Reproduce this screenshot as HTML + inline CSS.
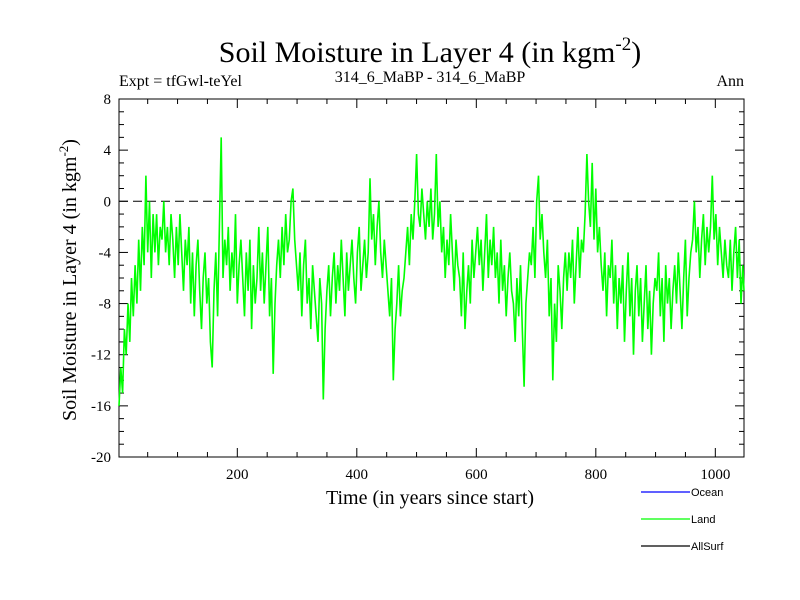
<!DOCTYPE html>
<html><head><meta charset="utf-8"><style>
body{margin:0;background:#fff;}
svg{display:block;}
text{font-family:"Liberation Serif",serif;}
</style></head><body>
<svg id="chart" width="800" height="600">
<text x="430" y="62" font-size="30" text-anchor="middle">Soil Moisture in Layer 4 (in kgm<tspan dy="-12" font-size="19">-2</tspan><tspan dy="12">)</tspan></text>
<text x="119" y="86" font-size="16">Expt = tfGwl-teYel</text>
<text x="430" y="82" font-size="16" text-anchor="middle">314_6_MaBP - 314_6_MaBP</text>
<text x="744" y="86" font-size="16" text-anchor="end">Ann</text>
<text transform="translate(76,280) rotate(-90)" font-size="20" text-anchor="middle">Soil Moisture in Layer 4 (in kgm<tspan dy="-8" font-size="13">-2</tspan><tspan dy="8">)</tspan></text>
<text x="430" y="504" font-size="20" text-anchor="middle">Time (in years since start)</text>
<g id="axes"></g>
<g id="series"></g>
<g>
<line x1="641" y1="492" x2="690" y2="492" stroke="#0000ff" stroke-width="1.2"/>
<text x="691" y="496" font-size="11" style="font-family:'Liberation Sans',sans-serif">Ocean</text>
<line x1="641" y1="519" x2="690" y2="519" stroke="#00ff00" stroke-width="1.2"/>
<text x="691" y="523" font-size="11" style="font-family:'Liberation Sans',sans-serif">Land</text>
<line x1="641" y1="546" x2="690" y2="546" stroke="#000" stroke-width="1.2"/>
<text x="691" y="550" font-size="11" style="font-family:'Liberation Sans',sans-serif">AllSurf</text>
</g>
</svg>
<script>
const yearStep = 3;
const landValues = [
-16,-13,-15,-10,-12,-8,-11,-6,-9,-5,
-8,-3,-7,-2,-5,2,-4,0,-6,-1,
-4,-1,-5,-2,-3,0,-4,-2,-5,-1,
-3,-6,-2,-5,-1,-4,-7,-3,-5,-2,
-8,-4,-9,-5,-3,-7,-10,-6,-4,-8,
-6,-11,-13,-7,-4,-9,-2,5,-6,-3,
-5,-2,-7,-4,-6,-1,-8,-5,-3,-6,
-9,-4,-7,-3,-10,-5,-8,-6,-2,-7,
-4,-8,-5,-2,-9,-6,-13.5,-8,-5,-3,
-6,-2,-5,-1,-4,-3,0,1,-3,-5,
-7,-4,-9,-5,-3,-8,-6,-10,-5,-7,
-9,-11,-6,-8,-15.5,-10,-7,-5,-9,-6,
-4,-8,-5,-7,-3,-6,-9,-4,-7,-5,
-3,-6,-8,-4,-2,-7,-5,-3,-6,-4,
1.8,-3,-1,-5,-2,0,-4,-6,-3,-5,
-7,-9,-6,-14,-10,-8,-5,-9,-7,-6,
-4,-2,-5,-1,-3,0,3.7,-1,-2,1,
-1,-3,0,-2,1,-3,-1,3.7,-2,0,
-4,-2,-6,-3,-5,-1,-4,-7,-3,-5,
-6,-9,-4,-10,-7,-5,-8,-3,-6,-4,
-2,-5,-3,-7,-4,-1,-6,-3,-5,-2,
-6,-4,-8,-3,-7,-5,-9,-6,-4,-7,
-8,-11,-6,-9,-5,-10,-14.5,-8,-6,-4,
-5,-2,-6,0,2,-3,-1,-4,-6,-3,
-9,-6,-14,-8,-11,-5,-7,-10,-6,-4,
-7,-4,-6,-3,-8,-5,-2,-6,-3,-4,
-1,3.7,0,-2,3,-3,1,-4,-2,-5,
-7,-4,-9,-5,-6,-3,-8,-5,-10,-6,
-8,-5,-11,-7,-4,-9,-6,-12,-7,-5,
-9,-6,-11,-8,-5,-10,-7,-12,-8,-6,
-7,-4,-9,-6,-11,-5,-8,-6,-10,-7,
-5,-8,-4,-7,-10,-6,-3,-9,-6,-4,
-3,0,-4,-2,-6,-3,-1,-5,-2,-4,
-2,2,-3,-1,-5,-2,-4,-6,-3,-5,
-6,-3,-7,-4,-2,-6,-3,-8,-5,-7
];
const yTicks = [8,4,0,-4,-8,-12,-16,-20];
const xTicks = [200,400,600,800,1000];
const X0=119,X1=744,Y0=99,Y1=457;
const xMin=2,xMax=1048,yMin=-20,yMax=8;
function sx(v){return X0+(v-xMin)/(xMax-xMin)*(X1-X0);}
function sy(v){return Y1-(v-yMin)/(yMax-yMin)*(Y1-Y0);}
const NS="http://www.w3.org/2000/svg";
function mk(tag,attrs,parent){const e=document.createElementNS(NS,tag);for(const k in attrs)e.setAttribute(k,attrs[k]);parent.appendChild(e);return e;}
const axes=document.getElementById('axes');
const frame=mk('rect',{x:X0,y:Y0,width:X1-X0,height:Y1-Y0,fill:'none',stroke:'#000','stroke-width':1},axes);


const zl=mk('line',{x1:X0,x2:X1,y1:sy(0),y2:sy(0),stroke:'#000','stroke-dasharray':'9,5','stroke-width':1},axes);


for(let v=yMin;v<=yMax;v++){
  const major=v%4===0;const L=major?9:5;const y=sy(v);
  mk('line',{x1:X0,x2:X0+L,y1:y,y2:y,stroke:'#000'},axes);
  mk('line',{x1:X1,x2:X1-L,y1:y,y2:y,stroke:'#000'},axes);
}
yTicks.forEach(v=>{
  const t=mk('text',{x:X0-8,y:sy(v)+5,'font-size':15,'text-anchor':'end'},axes);
  t.textContent=v;
  
  
});
for(let v=50;v<=xMax;v+=50){
  const major=v%200===0;const L=major?9:5;const x=sx(v);
  mk('line',{x1:x,x2:x,y1:Y1,y2:Y1-L,stroke:'#000'},axes);
  mk('line',{x1:x,x2:x,y1:Y0,y2:Y0+L,stroke:'#000'},axes);
}
xTicks.forEach(v=>{
  const t=mk('text',{x:sx(v),y:Y1+22,'font-size':15,'text-anchor':'middle'},axes);
  t.textContent=v;
  
  
});
const pts=landValues.map((v,i)=>sx(Math.min(xMax,xMin+i*yearStep)).toFixed(1)+','+sy(v).toFixed(1)).join(' ');
const pl=mk('polyline',{points:pts,fill:'none',stroke:'#00ff00','stroke-width':1.6},document.getElementById('series'));


</script>
</body></html>
